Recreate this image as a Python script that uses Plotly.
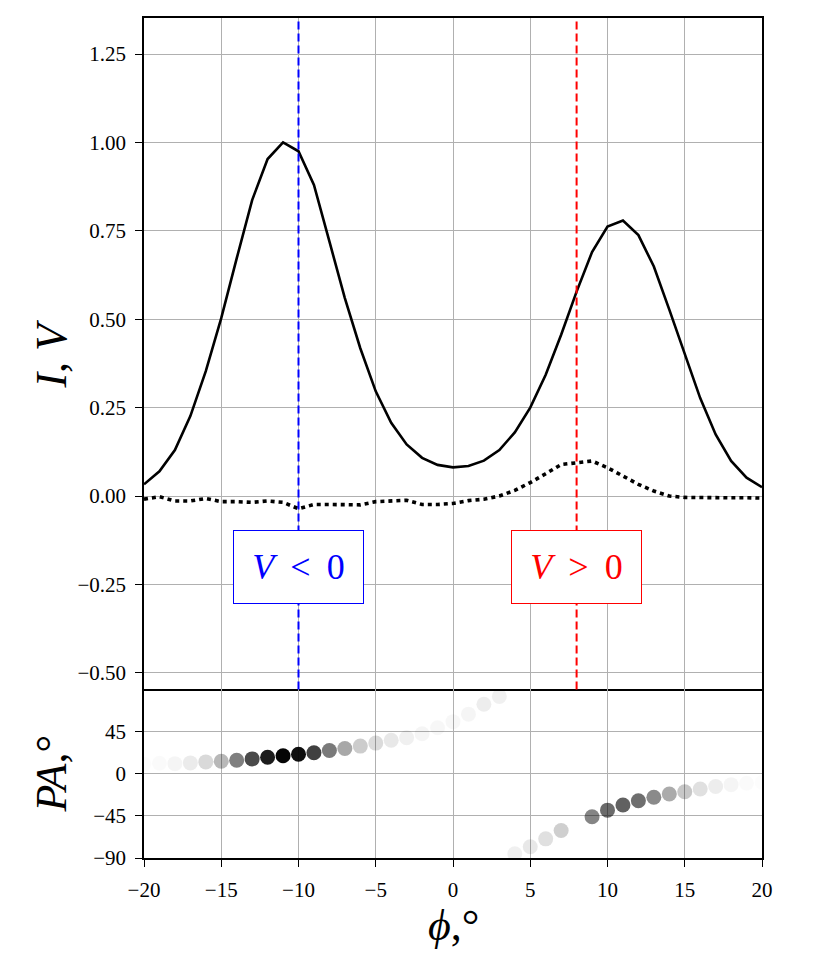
import plotly.graph_objects as go
from plotly.subplots import make_subplots

PHI = list(range(-20, 21))

# Stokes I (solid) and V (dotted) at integer phi
STOKES_I = [0.033, 0.070, 0.130, 0.226, 0.353, 0.503, 0.672, 0.837, 0.953, 1.000,
            0.975, 0.880, 0.720, 0.560, 0.418, 0.296, 0.207, 0.146, 0.108, 0.088,
            0.081, 0.085, 0.100, 0.130, 0.180, 0.250, 0.343, 0.456, 0.578, 0.690,
            0.762, 0.779, 0.738, 0.649, 0.527, 0.400, 0.277, 0.174, 0.099, 0.052,
            0.025]
STOKES_V = [-0.009, -0.002, -0.014, -0.014, -0.007, -0.016, -0.016, -0.018, -0.014, -0.018,
            -0.036, -0.024, -0.024, -0.025, -0.025, -0.016, -0.014, -0.012, -0.024, -0.024,
            -0.021, -0.013, -0.009, 0.000, 0.016, 0.038, 0.063, 0.089, 0.094, 0.099,
            0.080, 0.056, 0.033, 0.014, 0.000, -0.004, -0.005, -0.005, -0.005, -0.005,
            -0.006]

# position angle and its weight (marker opacity)
PA = [10.5, 11.5, 11.0, 11.8, 12.9, 13.6, 14.7, 16.1, 17.9, 19.4,
      21.0, 22.6, 25.1, 27.2, 29.8, 33.0, 36.0, 38.8, 43.0, 49.5,
      56.0, 64.0, 74.6, 83.0, -85.5, -78.0, -69.5, -60.5, None, -45.8,
      -38.8, -33.3, -28.7, -24.9, -21.5, -19.0, -16.2, -13.4, -11.5, -10.0,
      -9.0]
PA_WEIGHT = [0.01, 0.02, 0.04, 0.08, 0.15, 0.28, 0.50, 0.71, 0.89, 0.98,
             0.94, 0.75, 0.52, 0.34, 0.20, 0.14, 0.09, 0.06, 0.04, 0.03,
             0.03, 0.04, 0.07, 0.06, 0.06, 0.09, 0.12, 0.19, 0.0, 0.48,
             0.58, 0.62, 0.57, 0.46, 0.33, 0.22, 0.12, 0.07, 0.04, 0.02,
             0.01]

PHI_NEG, PHI_POS = -10, 8

X_TICKS = [-20, -15, -10, -5, 0, 5, 10, 15, 20]
X_TICKTEXT = ["−20", "−15", "−10", "−5", "0", "5", "10", "15", "20"]
Y1_TICKS = [-0.5, -0.25, 0, 0.25, 0.5, 0.75, 1.0, 1.25]
Y1_TICKTEXT = ["−0.50", "−0.25", "0.00", "0.25", "0.50", "0.75", "1.00", "1.25"]
Y2_TICKS = [-90, -45, 0, 45]
Y2_TICKTEXT = ["−90", "−45", "0", "45"]

FONT = "Liberation Serif"
SPLIT = 169 / 842  # bottom panel share of the plot height

fig = make_subplots(rows=2, cols=1, shared_xaxes=True,
                    row_heights=[673, 169], vertical_spacing=0)

fig.add_trace(go.Scatter(x=PHI, y=STOKES_I, mode="lines",
                         line=dict(color="black", width=2.6)), row=1, col=1)
fig.add_trace(go.Scatter(x=PHI, y=STOKES_V, mode="lines",
                         line=dict(color="black", width=3.6, dash="4px,4px")), row=1, col=1)
fig.add_trace(go.Scatter(x=PHI, y=PA, mode="markers",
                         marker=dict(color="black", size=15, opacity=PA_WEIGHT,
                                     line=dict(width=0))), row=2, col=1)

for xv, colour in ((PHI_NEG, "blue"), (PHI_POS, "red")):
    fig.add_shape(type="line", xref="x", yref="y domain", x0=xv, x1=xv, y0=0, y1=1,
                  line=dict(color=colour, width=2, dash="8px,4px"))

for xv, colour, txt in ((PHI_NEG, "blue", "<i>V</i>\u2009 &lt; \u20090"),
                        (PHI_POS, "red", "<i>V</i>\u2009 &gt; \u20090")):
    fig.add_annotation(x=xv, y=-0.2, xref="x", yref="y", text=txt, showarrow=False,
                       font=dict(family=FONT, size=36, color=colour),
                       bgcolor="white", bordercolor=colour, borderwidth=1,
                       borderpad=0, width=129, height=72)

# axis titles
title_font = dict(family=FONT, size=44, color="black")
fig.add_annotation(x=-0.149, y=SPLIT + (1 - SPLIT) / 2, xref="paper", yref="paper",
                   text="<i>I</i>, <i>V</i>", textangle=-90, showarrow=False,
                   xanchor="center", yanchor="middle", font=title_font)
fig.add_annotation(x=-0.149, y=SPLIT / 2, xref="paper", yref="paper",
                   text="<i>PA</i>,°", textangle=-90, showarrow=False,
                   xanchor="center", yanchor="middle", font=title_font)
fig.add_annotation(x=0.5, y=-0.08, xref="paper", yref="paper",
                   text="<i>ϕ</i>,°", showarrow=False,
                   xanchor="center", yanchor="middle", font=title_font)

axis_style = dict(showline=True, mirror=True, linecolor="black", linewidth=1.5,
                  gridcolor="#b0b0b0", gridwidth=1.4, zeroline=False,
                  tickfont=dict(family=FONT, size=21, color="black"),
                  ticks="outside", ticklen=7, tickwidth=1.2, tickcolor="black")

fig.update_xaxes(range=[-20, 20], tickvals=X_TICKS, ticktext=X_TICKTEXT,
                 ticklabelstandoff=5, **axis_style)
fig.update_xaxes(ticks="", showticklabels=False, row=1, col=1)
fig.update_xaxes(mirror=False, row=2, col=1)
fig.update_yaxes(range=[-0.547, 1.352], tickvals=Y1_TICKS, ticktext=Y1_TICKTEXT,
                 ticklabelstandoff=5, row=1, col=1, **axis_style)
fig.update_yaxes(range=[-90, 90.5], tickvals=Y2_TICKS, ticktext=Y2_TICKTEXT,
                 ticklabelstandoff=5, row=2, col=1, **axis_style)

fig.update_layout(width=822, height=948, showlegend=False,
                  margin=dict(l=136, r=68, t=8, b=98),
                  paper_bgcolor="white", plot_bgcolor="white",
                  font=dict(family=FONT, color="black"))

fig.write_html("out.html")
